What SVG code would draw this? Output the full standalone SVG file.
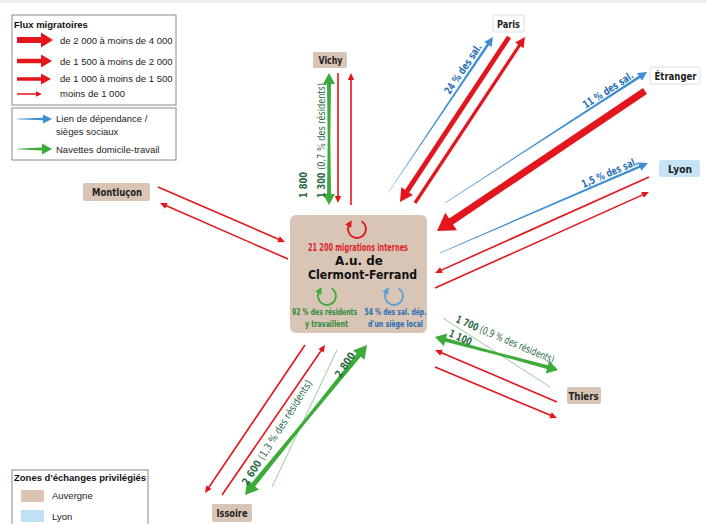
<svg xmlns="http://www.w3.org/2000/svg" width="707" height="524" viewBox="0 0 707 524">
<style>
.r{fill:#e3161d}
.b{fill:#3f8fd2}
.g{fill:#3cab3a}
.tl{stroke:#8cc688;stroke-width:0.9;fill:none}
.tan{fill:#d9c5b5}
.box{fill:#fff;stroke:#8a8a8a;stroke-width:1}
.leg{font-family:"Liberation Sans",Arial,sans-serif;font-size:9.5px;fill:#222}
.legb{font-family:"Liberation Sans",Arial,sans-serif;font-size:9.5px;font-weight:bold;fill:#111}
.c{font-family:"DejaVu Sans","Liberation Sans",sans-serif;font-stretch:condensed}
.nl{font-size:10.5px;font-weight:bold;fill:#222;text-anchor:middle}
.gl{font-size:10.5px;fill:#2d6a47}
.bl{font-size:10.5px;font-weight:bold;fill:#2a6cb3}
.bold{font-weight:bold}
</style>
<defs>
<marker id="mr" markerWidth="7" markerHeight="7" refX="2" refY="3.5" orient="auto" markerUnits="userSpaceOnUse"><path d="M0,0 L7,3.5 L0,7z" fill="#e3161d"/></marker>
<marker id="mg" markerWidth="7" markerHeight="7" refX="2" refY="3.5" orient="auto" markerUnits="userSpaceOnUse"><path d="M0,0 L7,3.5 L0,7z" fill="#3cab3a"/></marker>
<marker id="mb" markerWidth="7" markerHeight="7" refX="2" refY="3.5" orient="auto" markerUnits="userSpaceOnUse"><path d="M0,0 L7,3.5 L0,7z" fill="#5b9fd8"/></marker>
</defs>
<rect x="0" y="0" width="707" height="524" fill="#fff"/>
<rect x="0" y="0" width="707" height="3" fill="#eeeeee"/>

<!-- Legend 1 -->
<g id="legend-flux">
<rect class="box" x="12" y="15" width="164" height="90"/>
<text class="legb" x="14" y="28">Flux migratoires</text>
<polygon class="r" transform="translate(17,40)" points="0,-3 24,-3 24,-7.5 36,0 24,7.5 24,3 0,3"/>
<polygon class="r" transform="translate(17,61)" points="0,-2.25 24,-2.25 24,-6.5 35,0 24,6.5 24,2.25 0,2.25"/>
<polygon class="r" transform="translate(17,79)" points="0,-1.75 24,-1.75 24,-5.5 34,0 24,5.5 24,1.75 0,1.75"/>
<polygon class="r" transform="translate(17,94)" points="0,-0.75 19,-0.75 19,-2.8 25,0 19,2.8 19,0.75 0,0.75"/>
<text class="leg" x="60" y="43.5">de 2 000 à moins de 4 000</text>
<text class="leg" x="60" y="64.5">de 1 500 à moins de 2 000</text>
<text class="leg" x="60" y="82">de 1 000 à moins de 1 500</text>
<text class="leg" x="60" y="97">moins de 1 000</text>
</g>
<g id="legend-liens">
<rect class="box" x="12" y="108" width="164" height="52"/>
<polygon class="b" transform="translate(17,119)" points="0,-0.2 26,-1.3 26,-4.5 35,0 26,4.5 26,1.3 0,0.2"/>
<polygon class="g" transform="translate(17,149)" points="0,-0.25 25,-1.6 25,-5.5 35,0 25,5.5 25,1.6 0,0.25"/>
<text class="leg" x="56" y="122">Lien de dépendance /</text>
<text class="leg" x="56" y="135">sièges sociaux</text>
<text class="leg" x="56" y="152.5">Navettes domicile-travail</text>
</g>
<g id="legend-zones">
<rect class="box" x="12" y="470" width="136" height="60"/>
<text class="legb" x="14" y="481">Zones d'échanges privilégiés</text>
<rect x="21" y="490" width="23" height="12" fill="#dcc3b4"/>
<text class="leg" x="52" y="499">Auvergne</text>
<rect x="21" y="510" width="23" height="12" fill="#bfe0f5"/>
<text class="leg" x="52" y="520">Lyon</text>
</g>

<!-- Connectors -->
<g id="connectors">
<!-- Paris -->
<polygon class="b" transform="translate(388,193) rotate(-56.06)" points="0,-0.2 179,-1.3 179,-4.5 188,0 179,4.5 179,1.3 0,0.2"/>
<polygon class="r" transform="translate(509,37) rotate(123.45)" points="0,-2.4 184.8,-2.4 184.8,-7 197.8,0 184.8,7 184.8,2.4 0,2.4"/>
<polygon class="r" transform="translate(415,203) rotate(-56.47)" points="0,-1.6 189.1,-1.6 189.1,-5 199.1,0 189.1,5 189.1,1.6 0,1.6"/>
<!-- Etranger -->
<polygon class="b" transform="translate(445,203) rotate(-32.96)" points="0,-0.2 231.8,-1.3 231.8,-4.5 240.8,0 231.8,4.5 231.8,1.3 0,0.2"/>
<polygon class="r" transform="translate(645,91) rotate(146.06)" points="0,-3.5 233.7,-3.5 233.7,-10.5 250.7,0 233.7,10.5 233.7,3.5 0,3.5"/>
<!-- Lyon -->
<polygon class="b" transform="translate(440,253) rotate(-23.4)" points="0,-0.3 217.6,-1.3 217.6,-4.5 226.6,0 217.6,4.5 217.6,1.3 0,0.3"/>
<polygon class="r" transform="translate(649,177) rotate(155.84)" points="0,-0.8 227.5,-0.8 227.5,-3.2 234.5,0 227.5,3.2 227.5,0.8 0,0.8"/>
<polygon class="r" transform="translate(435,288) rotate(-24.16)" points="0,-0.8 227.5,-0.8 227.5,-3.2 234.5,0 227.5,3.2 227.5,0.8 0,0.8"/>
<!-- Thiers -->
<line class="tl" x1="443" y1="318" x2="550" y2="387"/>
<polygon class="g" transform="translate(435,337) rotate(15.02)" points="0,0 11,-6.5 11,-2 63.7,-1.3 116.4,-2 116.4,-6.5 127.4,0 116.4,6.5 116.4,2 63.7,1.3 11,2 11,6.5"/>
<polygon class="r" transform="translate(557,402) rotate(-156.91)" points="0,-0.8 125.6,-0.8 125.6,-3.2 132.6,0 125.6,3.2 125.6,0.8 0,0.8"/>
<polygon class="r" transform="translate(435,367) rotate(22.69)" points="0,-0.8 125.2,-0.8 125.2,-3.2 132.2,0 125.2,3.2 125.2,0.8 0,0.8"/>
<!-- Issoire -->
<line class="tl" x1="337" y1="350" x2="272" y2="487"/>
<polygon class="g" transform="translate(245,495) rotate(-50.88)" points="0,0 13,-7.5 13,-2.5 96.65,-1.5 180.3,-2.5 180.3,-7.5 193.3,0 180.3,7.5 180.3,2.5 96.65,1.5 13,2.5 13,7.5"/>
<polygon class="r" transform="translate(305,345) rotate(124.05)" points="0,-0.8 171.6,-0.8 171.6,-3.2 178.6,0 171.6,3.2 171.6,0.8 0,0.8"/>
<polygon class="r" transform="translate(222,495) rotate(-55.53)" points="0,-0.8 175,-0.8 175,-3.2 182,0 175,3.2 175,0.8 0,0.8"/>
<!-- Montlucon -->
<polygon class="r" transform="translate(158,187) rotate(23.42)" points="0,-0.8 131.4,-0.8 131.4,-3.2 138.4,0 131.4,3.2 131.4,0.8 0,0.8"/>
<polygon class="r" transform="translate(288,259) rotate(-156.37)" points="0,-0.8 132.7,-0.8 132.7,-3.2 139.7,0 132.7,3.2 132.7,0.8 0,0.8"/>
<!-- Vichy -->
<polygon class="g" transform="translate(329,73) rotate(90)" points="0,0 11,-6 11,-2 66,-1.3 121,-2 121,-6 132,0 121,6 121,2 66,1.3 11,2 11,6"/>
<polygon class="r" transform="translate(338,73) rotate(90)" points="0,-0.8 123,-0.8 123,-3.2 130,0 123,3.2 123,0.8 0,0.8"/>
<polygon class="r" transform="translate(351,205) rotate(-90)" points="0,-0.8 125,-0.8 125,-3.2 132,0 125,3.2 125,0.8 0,0.8"/>
</g>

<!-- Connector labels -->
<g id="connector-labels" class="c">
<text class="bl" transform="translate(466,71) rotate(-56)" text-anchor="middle" textLength="58" lengthAdjust="spacingAndGlyphs">24 % des sal.</text>
<text class="bl" transform="translate(610,93) rotate(-33)" text-anchor="middle" textLength="58" lengthAdjust="spacingAndGlyphs">11 % des sal.</text>
<text class="bl" transform="translate(611,176) rotate(-23.4)" text-anchor="middle" textLength="60" lengthAdjust="spacingAndGlyphs">1,5 % des sal.</text>
<text class="gl" transform="translate(325,198) rotate(-90)" textLength="115" lengthAdjust="spacingAndGlyphs"><tspan class="bold">1 300</tspan> (0,7 % des résidents)</text>
<text class="gl bold" transform="translate(307,198) rotate(-90)" textLength="26" lengthAdjust="spacingAndGlyphs">1 800</text>
<text class="gl" transform="translate(455,322) rotate(23)" textLength="106" lengthAdjust="spacingAndGlyphs"><tspan class="bold">1 700</tspan> (0,9 % des résidents)</text>
<text class="gl bold" transform="translate(448,336) rotate(24)" textLength="24" lengthAdjust="spacingAndGlyphs">1 100</text>
<text class="gl" transform="translate(247.5,486) rotate(-57.7)" textLength="122" lengthAdjust="spacingAndGlyphs"><tspan class="bold">2 600</tspan> (1,3 % des résidents)</text>
<text class="gl bold" transform="translate(348,367) rotate(-56)" text-anchor="middle" textLength="28" lengthAdjust="spacingAndGlyphs">2 800</text>
</g>

<!-- Nodes -->
<g id="n-center">
<rect class="tan" x="290" y="215" width="137" height="118" rx="6"/>
<path d="M361.5,221.2 A9,9 0 1 1 349.2,224.5" fill="none" stroke="#e3161d" stroke-width="1.8" marker-end="url(#mr)"/>
<path d="M331.5,288.2 A9,9 0 1 1 319.2,291.5" fill="none" stroke="#3cab3a" stroke-width="1.8" marker-end="url(#mg)"/>
<path d="M398.5,288.2 A9,9 0 1 1 386.2,291.5" fill="none" stroke="#5b9fd8" stroke-width="1.8" marker-end="url(#mb)"/>
<text class="c" x="358" y="251" text-anchor="middle" font-size="10" font-weight="bold" fill="#d9262b" textLength="100" lengthAdjust="spacingAndGlyphs">21 200 migrations internes</text>
<text class="c" x="359" y="265" text-anchor="middle" font-size="13" font-weight="bold" fill="#111" textLength="48" lengthAdjust="spacingAndGlyphs">A.u. de</text>
<text class="c" x="362.5" y="279" text-anchor="middle" font-size="13" font-weight="bold" fill="#111" textLength="109" lengthAdjust="spacingAndGlyphs">Clermont-Ferrand</text>
<text class="c" x="324.5" y="315" text-anchor="middle" font-size="9.5" font-weight="bold" fill="#2f8a3a" textLength="65" lengthAdjust="spacingAndGlyphs">92 % des résidents</text>
<text class="c" x="326.5" y="327" text-anchor="middle" font-size="9.5" font-weight="bold" fill="#2f8a3a" textLength="43" lengthAdjust="spacingAndGlyphs">y travaillent</text>
<text class="c" x="395.5" y="315" text-anchor="middle" font-size="9.5" font-weight="bold" fill="#2a6cb3" textLength="62" lengthAdjust="spacingAndGlyphs">54 % des sal. dép.</text>
<text class="c" x="395.5" y="327" text-anchor="middle" font-size="9.5" font-weight="bold" fill="#2a6cb3" textLength="55" lengthAdjust="spacingAndGlyphs">d'un siège local</text>
</g>
<g id="n-vichy">
<rect class="tan" x="313" y="52" width="34" height="16" rx="2"/>
<text class="c nl" x="330.5" y="64" textLength="24" lengthAdjust="spacingAndGlyphs">Vichy</text>
</g>
<g id="n-paris">
<rect x="493" y="15" width="31" height="17" rx="2" fill="#fff" stroke="#dddddd"/>
<text class="c nl" x="508.5" y="27.5" textLength="23" lengthAdjust="spacingAndGlyphs">Paris</text>
</g>
<g id="n-etranger">
<rect x="650" y="67" width="50" height="17" rx="2" fill="#fff" stroke="#dddddd"/>
<text class="c nl" x="675.5" y="79.5" textLength="42" lengthAdjust="spacingAndGlyphs">Étranger</text>
</g>
<g id="n-lyon">
<rect x="659" y="160" width="41" height="17" rx="3" fill="#c6e4f5"/>
<text class="c nl" x="680" y="172.5" textLength="24" lengthAdjust="spacingAndGlyphs">Lyon</text>
</g>
<g id="n-montlucon">
<rect class="tan" x="83" y="183" width="67" height="18" rx="2"/>
<text class="c nl" x="117" y="196" textLength="50" lengthAdjust="spacingAndGlyphs">Montluçon</text>
</g>
<g id="n-thiers">
<rect class="tan" x="567" y="387" width="34" height="17" rx="2"/>
<text class="c nl" x="583.5" y="399.5" textLength="30" lengthAdjust="spacingAndGlyphs">Thiers</text>
</g>
<g id="n-issoire">
<rect class="tan" x="212" y="504" width="40" height="18" rx="2"/>
<text class="c nl" x="232" y="517" textLength="31" lengthAdjust="spacingAndGlyphs">Issoire</text>
</g>
</svg>
